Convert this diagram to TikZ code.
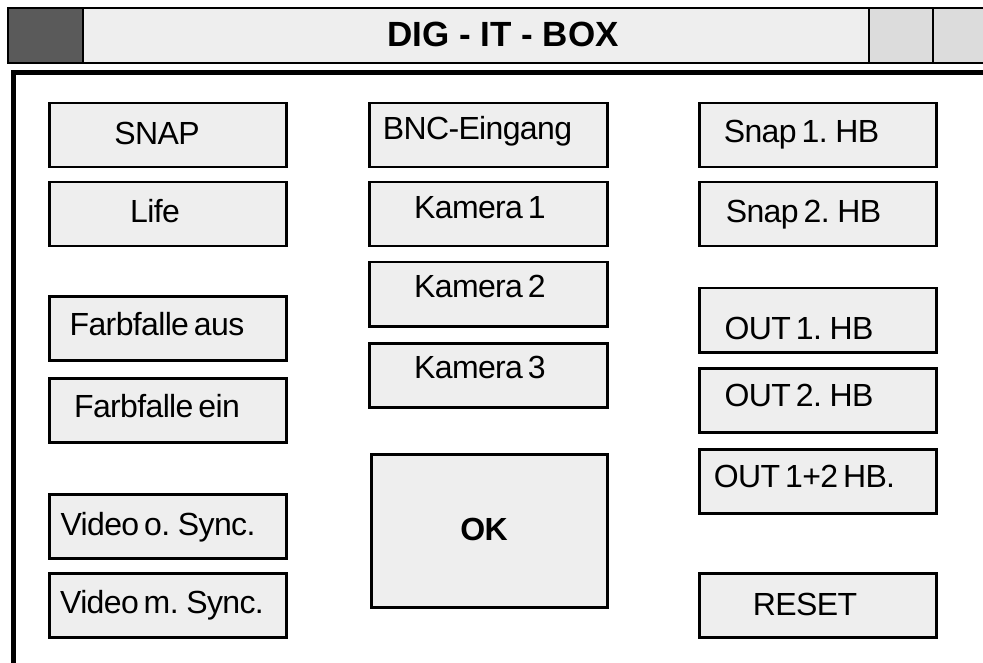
\documentclass[tikz,border=0pt]{standalone}
\usepackage{fontspec}
\setmainfont{Liberation Sans}
\newfontfamily\btnfont{Liberation Sans}[LetterSpace=-2, WordSpace=0.6]
\definecolor{boxgray}{HTML}{EEEEEE}
\definecolor{darksq}{HTML}{5A5A5A}
\definecolor{ltsq}{HTML}{DCDCDC}
\begin{document}
\begin{tikzpicture}[x=1pt,y=-1pt,
  btn/.style={draw=black, line width=2.5pt, fill=boxgray, anchor=north west,
    inner sep=0pt, minimum width=237pt, minimum height=64pt},
  lbl/.style={anchor=base, inner sep=0pt, font=\btnfont\fontsize{32}{38}\selectfont},
  ttl/.style={anchor=base, inner sep=0pt, font=\fontsize{35}{40}\selectfont\bfseries}]
\clip (0,0) rectangle (983,663);
\fill[white] (0,0) rectangle (983,663);
% title bar
\draw[line width=2.5pt, fill=boxgray] (8,8) rectangle (1000,63);
\draw[line width=2.5pt, fill=darksq] (8,8) rectangle (83,63);
\draw[line width=2.5pt, fill=ltsq] (869,8) rectangle (933,63);
\draw[line width=2.5pt, fill=ltsq] (933,8) rectangle (1000,63);
\node[ttl] (title) at (503,47) {DIG - IT - BOX};
% main frame
\draw[line width=5pt] (13,700) -- (13,72.5) -- (1000,72.5);
% left column
\node[btn] (snap) at (48,102) {};
\node[lbl] (snapt) at (157,145) {SNAP};
\node[btn] (life) at (48,181) {};
\node[lbl] (lifet) at (155,223) {Life};
\node[btn] (ffaus) at (48,295) {};
\node[lbl] (ffaust) at (157,335) {Farbfalle aus};
\node[btn] (ffein) at (48,377) {};
\node[lbl] (ffeint) at (157,417) {Farbfalle ein};
\node[btn] (vos) at (48,493) {};
\node[lbl] (vost) at (158,535) {Video o. Sync.};
\node[btn] (vms) at (48,572) {};
\node[lbl] (vmst) at (162,613) {Video m. Sync.};
% middle column
\node[btn, minimum width=238pt] (bnc) at (368,102) {};
\node[lbl] (bnct) at (477.5,140) {BNC-Eingang};
\node[btn, minimum width=238pt] (k1) at (368,181) {};
\node[lbl] (k1t) at (480,219) {Kamera 1};
\node[btn, minimum width=238pt] (k2) at (368,261) {};
\node[lbl] (k2t) at (480,298) {Kamera 2};
\node[btn, minimum width=238pt] (k3) at (368,342) {};
\node[lbl] (k3t) at (480,378) {Kamera 3};
\node[btn, minimum width=236pt, minimum height=153pt] (ok) at (370,453) {};
\node[lbl, font=\btnfont\fontsize{32}{38}\selectfont\bfseries] (okt) at (484,540) {OK};
% right column
\node[btn] (s1) at (698,102) {};
\node[lbl] (s1t) at (801.5,143) {Snap 1. HB};
\node[btn] (s2) at (698,181) {};
\node[lbl] (s2t) at (803.5,223) {Snap 2. HB};
\node[btn] (o1) at (698,287) {};
\node[lbl] (o1t) at (799,339) {OUT 1. HB};
\node[btn] (o2) at (698,367) {};
\node[lbl] (o2t) at (799,406) {OUT 2. HB};
\node[btn] (o12) at (698,448) {};
\node[lbl] (o12t) at (804.5,487) {OUT 1+2 HB.};
\node[btn] (reset) at (698,572) {};
\node[lbl] (resett) at (805,615) {RESET};
\end{tikzpicture}
\end{document}
